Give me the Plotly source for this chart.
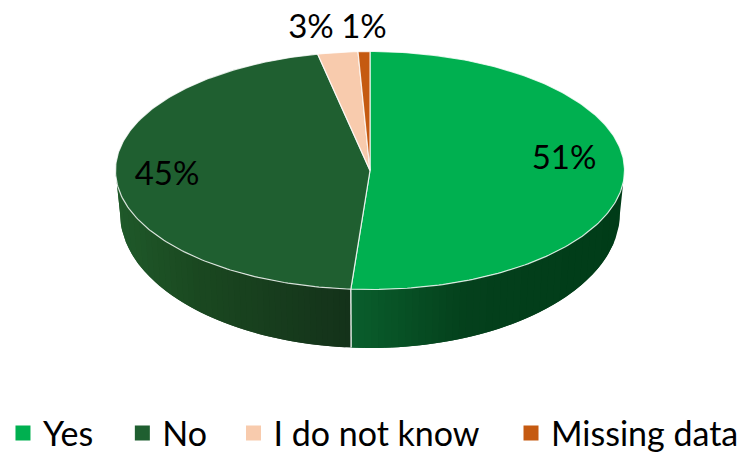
import numpy as np
import plotly.graph_objects as go

categories = ["Yes", "No", "I do not know", "Missing data"]
values = [51.2, 45.5, 2.55, 0.75]
value_labels = ["51%", "45%", "3%", "1%"]
colors = ["#00B050", "#1F5F30", "#F8CBAD", "#C55A11"]

W, H = 746, 459
CX, CY, RX, RY = 370, 170.5, 254.5, 119
CY_B, RX_B, RY_B = 213, 250, 135  # lower rim (the reference is drawn in perspective)
FONT = "Lato"


def hex2rgb(c):
    return np.array([int(c[i:i + 2], 16) for i in (1, 3, 5)], float)


def shade(stops, x):
    xs = [s[0] for s in stops]
    rgb = [np.interp(x, xs, [hex2rgb(s[1])[k] for s in stops]) for k in range(3)]
    return "rgb(%d,%d,%d)" % tuple(int(round(v)) for v in rgb)


def ell(theta):
    return CX + RX * np.sin(theta), CY - RY * np.cos(theta)


def ell_b(theta):
    return CX + RX_B * np.sin(theta), CY_B - RY_B * np.cos(theta)


fig = go.Figure()

# side wall, as narrow overlapping strips that carry the horizontal gradient
total = sum(values)
bound = 2 * np.pi * values[0] / total
wall_right = [(CX - 19, "#0A5F2D"), (470, "#04401C"), (CX + RX, "#003C18")]
wall_left = [(CX - RX, "#1F5A2A"), (200, "#1A4820"), (CX - 19, "#14321A")]
for start, end, stops, n in [(np.pi / 2, bound, wall_right, 40), (bound, 3 * np.pi / 2, wall_left, 40)]:
    th_edges = np.pi - np.arcsin(np.clip(np.linspace(np.sin(start), np.sin(end), n + 1), -1, 1))
    for i in range(n):
        a, b = th_edges[i], th_edges[min(i + 2, n)]
        t = np.linspace(a, b, 8)
        x, y = ell(t)
        xb, yb = ell_b(t)
        col = shade(stops, ell(th_edges[i])[0])
        fig.add_trace(go.Scatter(
            x=np.r_[x, xb[::-1]], y=np.r_[y, yb[::-1]],
            mode="lines", fill="toself", fillcolor=col, line=dict(width=0),
            showlegend=False, hoverinfo="skip"))

# white seam down the wall between the two front slices
bx, by = ell(bound)
bx2, by2 = ell_b(bound)
fig.add_trace(go.Scatter(x=[bx, bx2], y=[by, by2], mode="lines",
                         line=dict(color="rgba(255,255,255,0.85)", width=1.5),
                         showlegend=False, hoverinfo="skip"))

# top face
cum = 0.0
for cat, val, col in zip(categories, values, colors):
    a = 2 * np.pi * cum / total
    b = 2 * np.pi * (cum + val) / total
    cum += val
    t = np.linspace(a, b, max(int(val * 4), 6))
    x, y = ell(t)
    fig.add_trace(go.Scatter(
        x=np.r_[CX, x, CX], y=np.r_[CY, y, CY], mode="lines", fill="toself", fillcolor=col,
        line=dict(color="rgba(255,255,255,0.8)", width=1.2),
        name=cat, showlegend=False, hoverinfo="name"))

# value labels
fig.add_trace(go.Scatter(
    x=[564, 167, 311, 364], y=[161, 177, 30, 30], mode="text", text=value_labels,
    textfont=dict(family=FONT, size=33, color="#000000"), textposition="middle center",
    showlegend=False, hoverinfo="skip"))

# legend: one box per entry so each sits where the reference has it
legend_x = [0.004, 0.164, 0.313, 0.685]
names = ["legend", "legend2", "legend3", "legend4"]
layout_legends = {}
for cat, col, lx, nm in zip(categories, colors, legend_x, names):
    fig.add_trace(go.Scatter(x=[None], y=[None], mode="markers", name=cat, legend=nm,
                             marker=dict(symbol="square", size=15, color=col)))
    layout_legends[nm] = dict(x=lx, y=0.056, xanchor="left", yanchor="middle", itemwidth=30,
                              bgcolor="rgba(0,0,0,0)", tracegroupgap=0,
                              font=dict(family=FONT, size=34, color="#000000"))

fig.update_layout(
    width=W, height=H, margin=dict(l=0, r=0, t=0, b=0, autoexpand=False),
    paper_bgcolor="white", plot_bgcolor="white",
    xaxis=dict(range=[0, W], visible=False, fixedrange=True),
    yaxis=dict(range=[H, 0], visible=False, fixedrange=True),
    **layout_legends)
fig.write_html("out.html", config=dict(displayModeBar=False),
               post_script="document.body.style.margin='0';")
